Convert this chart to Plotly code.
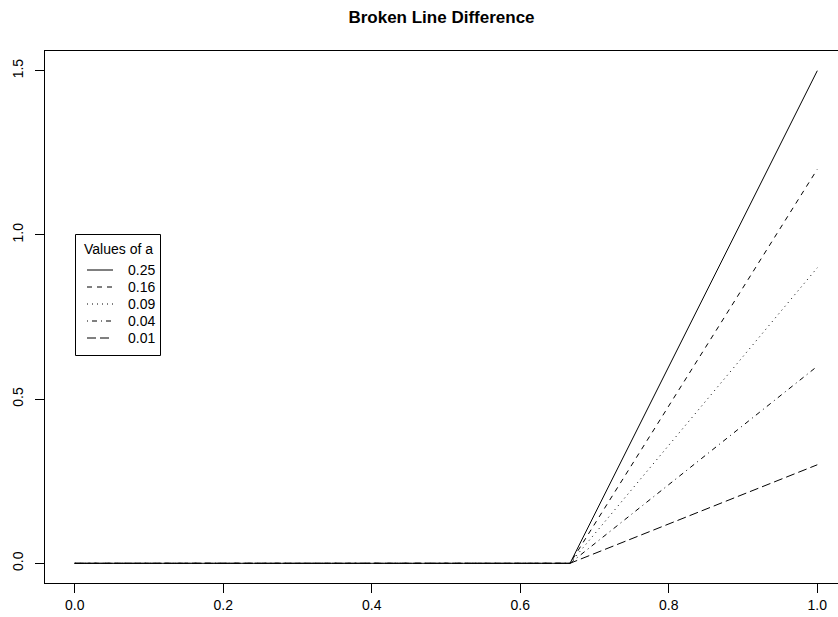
import plotly.graph_objects as go

# Break-point curves: flat at zero up to the knot, then rising linearly
x_points = [0.0, 0.667, 1.0]
a_labels = ["0.25", "0.16", "0.09", "0.04", "0.01"]
y_025 = [0.0, 0.0, 1.5]
y_016 = [0.0, 0.0, 1.2]
y_009 = [0.0, 0.0, 0.9]
y_004 = [0.0, 0.0, 0.6]
y_001 = [0.0, 0.0, 0.3]
series = [y_025, y_016, y_009, y_004, y_001]

x_ticks = [0.0, 0.2, 0.4, 0.6, 0.8, 1.0]
y_ticks = [0.0, 0.5, 1.0, 1.5]

# R-style line types: solid, dashed, dotted, dotdash, longdash
dash_styles = ["solid", "5px,5px", "1px,4px", "1px,4px,5px,4px", "9px,4px"]

FONT = "Liberation Sans, Arial, sans-serif"

W, H = 838, 617
ml, mr, mt, mb = 45, 0, 51, 34
PW, PH = W - ml - mr, H - mt - mb


def px(x):
    return (x - ml) / PW


def py(y):
    return (H - mb - y) / PH


fig = go.Figure()
for lab, ys, dash in zip(a_labels, series, dash_styles):
    fig.add_trace(go.Scatter(
        x=x_points, y=ys, mode="lines", name=lab, showlegend=False,
        line=dict(color="black", width=1, dash=dash),
    ))

# Legend box in the style of base-graphics legend()
shapes = [dict(type="rect", xref="paper", yref="paper",
               x0=px(75.5), x1=px(160.5), y0=py(355.5), y1=py(234.5),
               line=dict(color="black", width=1), fillcolor="white", layer="above")]
annotations = [dict(text="Values of a", xref="paper", yref="paper",
                    x=px(118), y=py(249), xanchor="center", yanchor="middle",
                    showarrow=False, font=dict(family=FONT, size=14, color="black"))]
row_y = [270, 287, 304, 321, 338]
for lab, dash, yy in zip(a_labels, dash_styles, row_y):
    shapes.append(dict(type="line", xref="paper", yref="paper",
                       x0=px(87), x1=px(113), y0=py(yy), y1=py(yy),
                       line=dict(color="black", width=1, dash=dash), layer="above"))
    annotations.append(dict(text=lab, xref="paper", yref="paper",
                            x=px(126), y=py(yy), xanchor="left", yanchor="middle",
                            showarrow=False,
                            font=dict(family=FONT, size=14, color="black")))

fig.update_layout(
    width=W, height=H,
    margin=dict(l=ml, r=mr, t=mt, b=mb, pad=0),
    paper_bgcolor="white", plot_bgcolor="white",
    font=dict(family=FONT, size=14, color="black"),
    showlegend=False,
    title=dict(
        text="<b>Broken Line Difference</b>",
        x=0.5, xref="paper", xanchor="center",
        y=1 - 17 / H, yref="container", yanchor="middle",
        font=dict(family=FONT, size=17, color="black"),
    ),
    xaxis=dict(
        range=[-0.04, -0.04 + PW / 742.6],
        tickvals=x_ticks, ticktext=[f"{v:.1f}" for v in x_ticks],
        ticks="outside", ticklen=9, tickwidth=1, tickcolor="black",
        showline=True, linecolor="black", linewidth=1, mirror=True,
        showgrid=False, zeroline=False,
        tickfont=dict(family=FONT, size=14, color="black"),
    ),
    yaxis=dict(
        range=[-0.06, 1.56],
        tickvals=y_ticks, ticktext=[f"{v:.1f}" for v in y_ticks],
        tickangle=-90, ticklabelstandoff=6,
        ticks="outside", ticklen=9, tickwidth=1, tickcolor="black",
        showline=True, linecolor="black", linewidth=1, mirror=False,
        showgrid=False, zeroline=False,
        tickfont=dict(family=FONT, size=14, color="black"),
    ),
    shapes=shapes,
    annotations=annotations,
)

fig.write_html("out.html")
